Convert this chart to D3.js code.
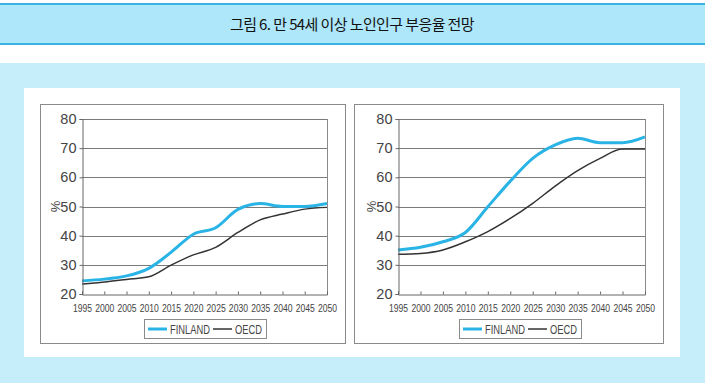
<!DOCTYPE html>
<html><head><meta charset="utf-8">
<script src="https://cdn.jsdelivr.net/npm/d3@7/dist/d3.min.js"></script>
<style>body{margin:0;background:#fff}svg{display:block}</style>
</head><body><svg id="c" width="724" height="385"></svg>
<script>
const titleText = "그림 6. 만 54세 이상 노인인구 부응율 전망";
const years = [1995,2000,2005,2010,2015,2020,2025,2030,2035,2040,2045,2050];
const yTicks = [20,30,40,50,60,70,80];
const seriesNames = ["FINLAND","OECD"];
const leftFinland = [24.5,25.1,26.2,28.8,34.3,40.5,42.7,49.0,51.0,50.0,50.0,51.0];
const leftOecd    = [23.4,24.1,25.0,25.9,29.9,33.4,36.0,41.1,45.4,47.4,49.1,49.7];
const rightFinland= [35.1,36.0,37.9,41.1,49.9,58.7,66.5,71.1,73.4,71.9,71.9,73.9];
const rightOecd   = [33.6,33.9,35.1,37.9,41.4,45.9,51.1,57.0,62.3,66.5,69.7,69.7];
const yLabel = "%";

const svg = d3.select("#c");
const colors = {FINLAND:"#2ab4e6", OECD:"#333333"};
const widths = {FINLAND:3, OECD:1.5};

// title band
svg.append("rect").attr("x",0).attr("y",4).attr("width",705).attr("height",40).attr("fill","#aee6fa");
svg.append("line").attr("x1",0).attr("x2",705).attr("y1",4).attr("y2",4).attr("stroke","#3ab2e2").attr("stroke-width",2);
svg.append("line").attr("x1",0).attr("x2",705).attr("y1",44).attr("y2",44).attr("stroke","#3ab2e2").attr("stroke-width",2);
svg.append("text").attr("x",352).attr("y",29.5).attr("text-anchor","middle")
  .attr("font-family","'Noto Sans CJK KR', sans-serif").attr("font-size",15).attr("font-weight",400)
  .attr("letter-spacing",-0.6).attr("fill","#111").text(titleText);

// panel
svg.append("rect").attr("x",0).attr("y",63).attr("width",705).attr("height",320).attr("fill","#c6eefa");
svg.append("rect").attr("x",24).attr("y",88).attr("width",656).attr("height",269).attr("fill","#ffffff");

function chart(box, plot, fin, oecd, legendX){
  svg.append("rect").attr("x",box.x+0.5).attr("y",box.y+0.5).attr("width",box.w).attr("height",box.h)
    .attr("fill","#fff").attr("stroke","#8a8a8a").attr("stroke-width",1);
  const g = svg.append("g");
  const x = d3.scaleLinear().domain([1995,2050]).range([plot.x0, plot.x1]);
  const y = d3.scaleLinear().domain([20,80]).range([plot.y1, plot.y0]);
  // grid
  g.selectAll("line.grid").data(yTicks.slice(1)).join("line")
    .attr("x1",plot.x0).attr("x2",plot.x1)
    .attr("y1",d=>Math.round(y(d))+0.5).attr("y2",d=>Math.round(y(d))+0.5)
    .attr("stroke","#7a7a7a").attr("stroke-width",1);
  // right border
  g.append("line").attr("x1",plot.x1+0.5).attr("x2",plot.x1+0.5).attr("y1",y(80)).attr("y2",y(20))
    .attr("stroke","#8a8a8a");
  // y axis
  const ya = d3.axisLeft(y).tickValues(yTicks).tickSize(3).tickPadding(3).tickFormat(d3.format("d"));
  const yg = svg.append("g").attr("transform",`translate(${plot.x0+0.5},0)`).call(ya);
  yg.select(".domain").attr("stroke","#666");
  yg.selectAll(".tick line").attr("stroke","#666");
  yg.selectAll("text").attr("font-family","'Liberation Sans', Arial, sans-serif").attr("font-size",14.5).attr("fill","#444");
  // x axis
  const xa = d3.axisBottom(x).tickValues(years).tickSize(-3).tickPadding(0).tickFormat(d3.format("d"));
  const xg = svg.append("g").attr("transform",`translate(0,${Math.round(plot.y1)+0.5})`).call(xa);
  xg.select(".domain").attr("stroke","#666");
  xg.selectAll(".tick line").attr("stroke","#666");
  xg.selectAll("text").attr("font-family","'Liberation Sans', Arial, sans-serif").attr("font-size",11)
    .attr("fill","#444").attr("dy",null).attr("y",0).attr("transform","translate(0,17) scale(0.78,1)");
  // y label
  svg.append("text").attr("transform",`translate(${plot.x0-27},${y(50)}) rotate(-90)`)
    .attr("text-anchor","middle").attr("dy","0.35em")
    .attr("font-family","'Liberation Sans', Arial, sans-serif").attr("font-size",13).attr("fill","#444").text(yLabel);
  // lines
  const line = d3.line().x((d,i)=>x(years[i])).y(d=>y(d)).curve(d3.curveMonotoneX);
  [["OECD",oecd],["FINLAND",fin]].forEach(([n,v])=>{
    g.append("path").datum(v).attr("d",line).attr("fill","none")
      .attr("stroke",colors[n]).attr("stroke-width",widths[n]).attr("stroke-linejoin","round");
  });
  // legend
  const lg = svg.append("g").attr("transform",`translate(${legendX},319)`);
  lg.append("rect").attr("x",0.5).attr("y",0.5).attr("width",122).attr("height",19).attr("fill","#fff").attr("stroke","#8a8a8a");
  const items = [{n:seriesNames[0],lx:4,tx:26},{n:seriesNames[1],lx:69,tx:91}];
  items.forEach(it=>{
    lg.append("line").attr("x1",it.lx).attr("x2",it.lx+19).attr("y1",10).attr("y2",10)
      .attr("stroke",colors[it.n]).attr("stroke-width",widths[it.n]);
    lg.append("text").attr("transform",`translate(${it.tx},14.5) scale(0.78,1)`)
      .attr("font-family","'Liberation Sans', Arial, sans-serif").attr("font-size",12).attr("fill","#444").text(it.n);
  });
}

chart({x:40,y:104,w:305,h:239},{x0:82,x1:327,y0:119,y1:294},leftFinland,leftOecd,144);
chart({x:354,y:104,w:309,h:239},{x0:398,x1:645,y0:119,y1:294},rightFinland,rightOecd,459);
</script></body></html>
